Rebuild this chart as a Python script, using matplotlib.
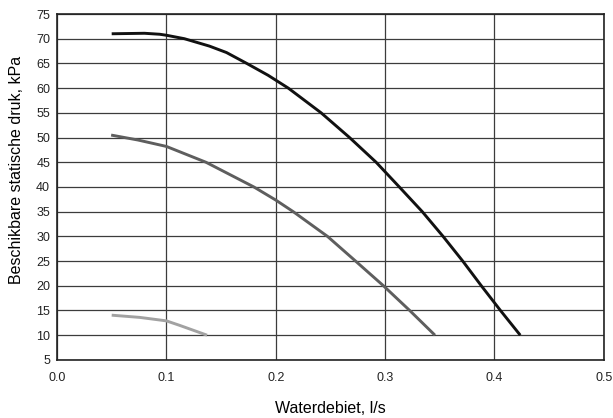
import matplotlib.pyplot as plt

plt.rcParams['font.family'] = ['Liberation Sans', 'DejaVu Sans']

# curve 1 (black), top curve
flow_hi = [0.05, 0.08, 0.094, 0.10, 0.1165, 0.1394, 0.155, 0.1735, 0.193, 0.2115, 0.2415,
           0.2675, 0.2918, 0.313, 0.334, 0.353, 0.371, 0.388, 0.4055, 0.4236]
druk_hi = [71.0, 71.1, 70.9, 70.7, 70.0, 68.5, 67.2, 65.0, 62.6, 60.0, 55.0,
           50.0, 45.0, 40.0, 35.0, 30.0, 25.0, 20.0, 15.0, 10.0]

# curve 2 (mid gray)
flow_mid = [0.0495, 0.074, 0.10, 0.1362, 0.180, 0.20, 0.216, 0.2473, 0.273, 0.2985, 0.3225, 0.3456]
druk_mid = [50.5, 49.5, 48.2, 45.0, 40.0, 37.35, 35.0, 30.0, 25.0, 20.0, 15.0, 10.0]

# curve 3 (light gray)
flow_lo = [0.05, 0.0757, 0.10, 0.112, 0.1372]
druk_lo = [14.05, 13.6, 12.9, 12.0, 10.0]

x_ticks = [0.0, 0.1, 0.2, 0.3, 0.4, 0.5]
y_ticks = list(range(5, 80, 5))

fig = plt.figure(figsize=(6.13, 4.18), dpi=100)
ax = fig.add_axes([0.093, 0.139, 0.892, 0.8275])

ax.plot(flow_hi, druk_hi, color='#111111', lw=2.1, solid_capstyle='butt',
        solid_joinstyle='round', zorder=3)
ax.plot(flow_mid, druk_mid, color='#5e5e5e', lw=2.1, solid_capstyle='butt',
        solid_joinstyle='round', zorder=3)
ax.plot(flow_lo, druk_lo, color='#a2a2a2', lw=2.1, solid_capstyle='butt',
        solid_joinstyle='round', zorder=3)

ax.set_xlim(0, 0.5)
ax.set_ylim(5, 75)
ax.set_xticks(x_ticks)
ax.set_xticklabels([f'{v:.1f}' for v in x_ticks])
ax.set_yticks(y_ticks)

ax.grid(True, color='#3c3c3c', lw=0.9)
ax.set_axisbelow(True)
ax.tick_params(length=0, labelsize=9, colors='#222222')
ax.tick_params(axis='x', pad=9)
ax.tick_params(axis='y', pad=5)
for s in ax.spines.values():
    s.set_color('#222222')
    s.set_linewidth(1.2)

ax.set_xlabel('Waterdebiet, l/s', fontsize=11.5, labelpad=12)
ax.set_ylabel('Beschikbare statische druk, kPa', fontsize=11.5)
ax.yaxis.set_label_coords(-0.06, 0.55)

fig.savefig('out.png', dpi=100)
